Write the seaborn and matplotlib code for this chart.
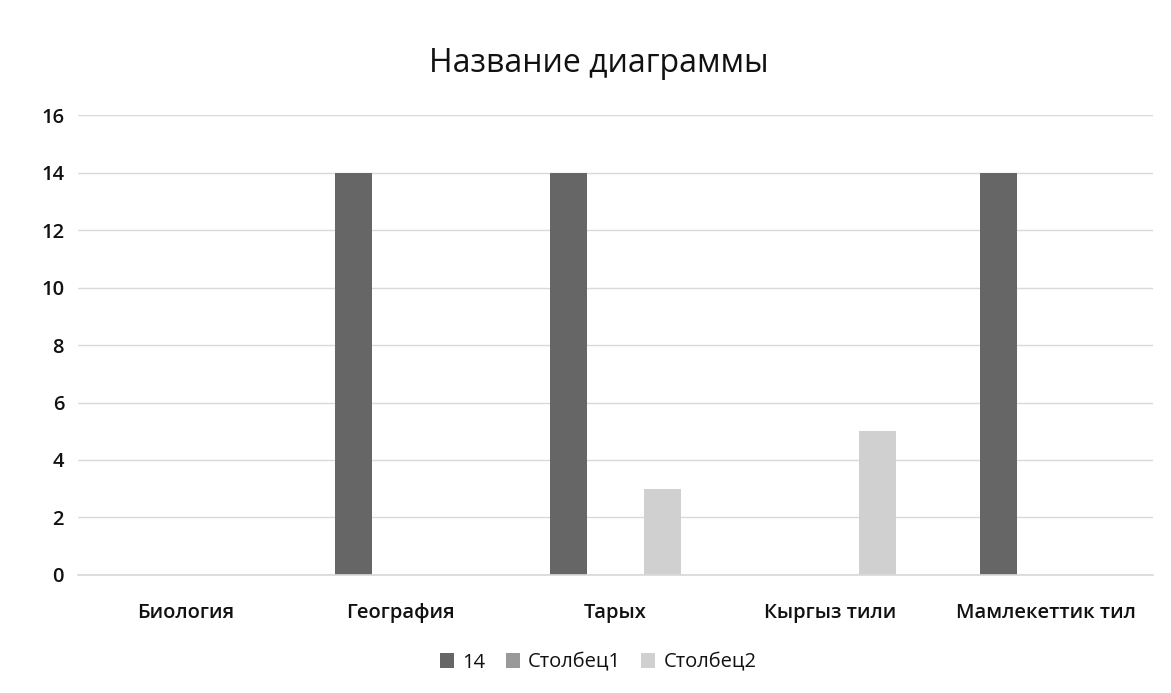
import matplotlib
matplotlib.use("Agg")
import matplotlib.pyplot as plt
import seaborn as sns
import pandas as pd

categories = ["Биология", "География", "Тарых", "Кыргыз тили", "Мамлекеттик тил"]
series_names = ["14", "Столбец1", "Столбец2"]
s14 = [0, 14, 14, 0, 14]
col1 = [0, 0, 0, 0, 0]
col2 = [0, 0, 3, 5, 0]
yticks = [0, 2, 4, 6, 8, 10, 12, 14, 16]

rows = []
for name, vals in zip(series_names, [s14, col1, col2]):
    for c, v in zip(categories, vals):
        rows.append({"cat": c, "series": name, "value": v})
df = pd.DataFrame(rows)

sns.set_theme(style="white")
plt.rcParams["font.family"] = ["Open Sans", "DejaVu Sans"]

fig = plt.figure(figsize=(11.71, 6.93), dpi=100)
ax = fig.add_axes([0.0666, 0.1703, 0.918, 0.6637])

palette = {"14": "#666666", "Столбец1": "#999999", "Столбец2": "#d0d0d0"}
sns.barplot(data=df, x="cat", y="value", hue="series", order=categories,
            hue_order=series_names, palette=palette, width=0.66, gap=0.22,
            ax=ax, legend=True, saturation=1, linewidth=0)

ax.set_ylim(0, 16)
ax.set_xlim(-0.5, 4.5)
ax.set_yticks(yticks)
ax.set_yticklabels([str(t) for t in yticks], fontsize=14.5, color="#111111",
                   fontweight="semibold")
for lab in ax.get_xticklabels():
    lab.set_fontsize(14.5)
    lab.set_fontweight("semibold")
    lab.set_color("#111111")
ax.yaxis.grid(True, color="#d9d9d9", linewidth=1)
ax.set_axisbelow(True)
for s in ["top", "right", "left"]:
    ax.spines[s].set_visible(False)
ax.spines["bottom"].set_color("#d9d9d9")
ax.tick_params(axis="y", length=0, pad=10)
ax.tick_params(axis="x", length=0, pad=20)
ax.set_xlabel("")
ax.set_ylabel("")

fig.text(0.511, 0.908, "Название диаграммы", ha="center", va="center",
         fontsize=23, color="#111111")

handles, labels = ax.get_legend_handles_labels()
ax.legend_.remove()
leg = fig.legend(handles, labels, loc="center", bbox_to_anchor=(0.511, 0.044),
                 ncol=3, frameon=False, fontsize=14.5, handlelength=0.7,
                 handleheight=0.7, columnspacing=1.0, handletextpad=0.4)
for t in leg.get_texts():
    t.set_color("#111111")

fig.savefig("out.png", dpi=100)
